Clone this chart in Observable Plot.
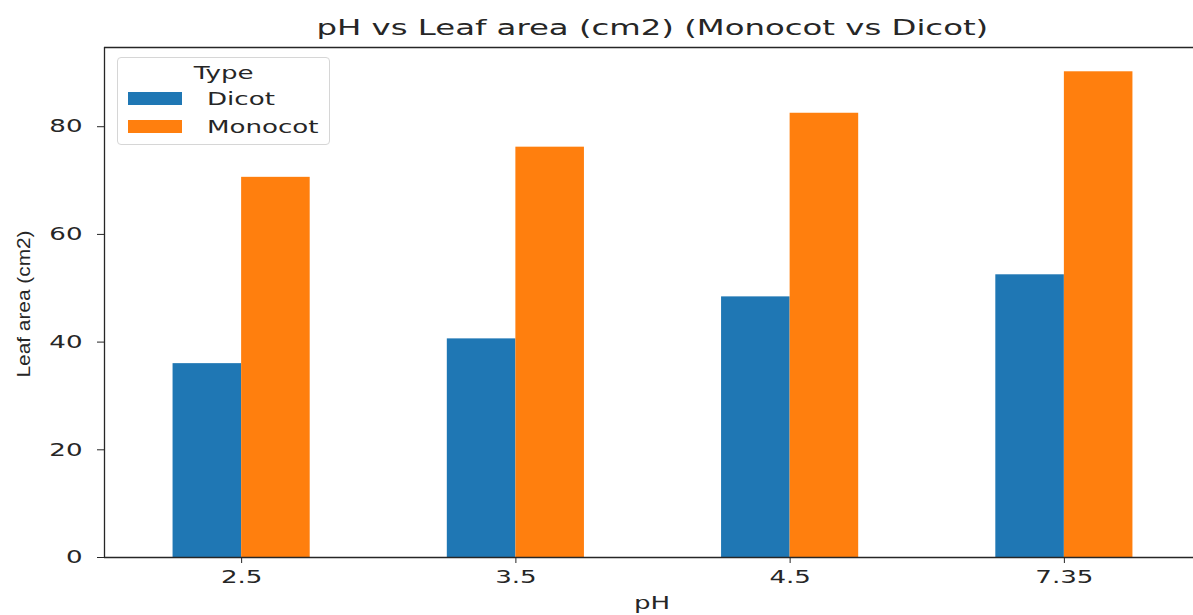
<!DOCTYPE html>
<html>
<head>
<meta charset="utf-8">
<script src="https://cdn.jsdelivr.net/npm/d3@7"></script>
<script src="https://cdn.jsdelivr.net/npm/@observablehq/plot@0.6"></script>
<style>
  html, body { margin: 0; padding: 0; background: #fff; overflow: hidden; }
  #wrap { position: relative; width: 1193px; height: 615px; overflow: hidden; font-family: "DejaVu Sans", sans-serif; color: #262626; }
  #title { height: 40px; position: relative; }
  #title span { position: absolute; left: 652px; top: 17px; font-size: 21px; line-height: 22px; white-space: nowrap; transform-origin: 0 50%; }
  #chart svg { max-width: none !important; display: block; }
  #ylab { position: absolute; left: 24px; top: 304px; font-family: "Liberation Sans", Arial, sans-serif; font-size: 18px; line-height: 18px; white-space: nowrap; }
  #xlab { position: absolute; left: 652px; top: 603px; font-size: 18px; line-height: 18px; white-space: nowrap; }
  #legend { position: absolute; left: 117px; top: 57px; width: 211px; height: 86px; border: 1px solid #d6d6d6; border-radius: 4px; background: rgba(255,255,255,0.85); }
  #legend .lt { position: absolute; left: 0; width: 100%; top: 6px; text-align: center; font-size: 18px; line-height: 18px; }
  #legend .sw { position: absolute; left: 10px; width: 54px; height: 13px; }
  #legend .lab { position: absolute; left: 89px; font-size: 18px; line-height: 18px; white-space: nowrap; transform-origin: 0 50%; }
</style>
</head>
<body>
<div id="wrap">
  <div id="title"><span></span></div>
  <div id="chart"></div>
  <div id="ylab"></div>
  <div id="xlab"></div>
  <div id="legend"></div>
</div>
<script>
// ---- data ----
const titleText = "pH vs Leaf area (cm2) (Monocot vs Dicot)";
const xLabel = "pH";
const yLabel = "Leaf area (cm2)";
const legendTitle = "Type";
const phLabels = ["2.5", "3.5", "4.5", "7.35"];
const types = ["Dicot", "Monocot"];
const dicot = [36.0, 40.6, 48.4, 52.5];
const monocot = [70.6, 76.2, 82.5, 90.2];
const yTicks = [0, 20, 40, 60, 80];
const colors = ["#1f77b4", "#ff7f0e"];

// ---- table (pandas-style grouped bars, total group width 0.5) ----
const groupWidth = 0.5;
const series = [dicot, monocot];
const rows = [];
phLabels.forEach((ph, i) => {
  types.forEach((t, j) => {
    const w = groupWidth / types.length;
    const x1 = i - groupWidth / 2 + j * w;
    rows.push({ph, type: t, x1, x2: x1 + w, value: series[j][i]});
  });
});
const yMax = d3.max([...dicot, ...monocot]) * 1.05;
const xDomain = [-0.5, phLabels.length - 0.5];

const SX = 1.45; // horizontal stretch of text in reference

const plot = Plot.plot({
  width: 1201,
  height: 575,
  marginTop: 7,
  marginBottom: 58,
  marginLeft: 104,
  marginRight: 0,
  style: {fontFamily: "DejaVu Sans, sans-serif", fontSize: "18px", color: "#262626", background: "transparent", maxWidth: "none"},
  x: {domain: xDomain, axis: null},
  y: {domain: [0, yMax], axis: null},
  color: {domain: types, range: colors},
  marks: [
    Plot.rectY(rows, {x1: "x1", x2: "x2", y: "value", fill: "type"}),
    Plot.ruleY([0, yMax], {stroke: "#262626", strokeWidth: 1.3}),
    Plot.ruleX([xDomain[0]], {stroke: "#262626", strokeWidth: 1.3}),
    Plot.axisY({ticks: yTicks, tickSize: 7, tickPadding: 15, label: null, tickFormat: d3.format("d"), stroke: "#262626", fill: "#262626", fontSize: 18}),
    Plot.axisX({ticks: phLabels.map((_, i) => i), tickSize: 6, tickPadding: 7, label: null, tickFormat: i => phLabels[i], stroke: "#262626", fill: "#262626", fontSize: 18})
  ]
});
document.getElementById("chart").appendChild(plot);

// stretch tick labels horizontally about their anchor
plot.querySelectorAll("text").forEach(t => {
  const x = +t.getAttribute("x") || 0;
  const y = +t.getAttribute("y") || 0;
  const tr = t.getAttribute("transform") || "";
  t.setAttribute("transform", `${tr} translate(${x},${y}) scale(${SX},1) translate(${-x},${-y})`);
});

// title
const ts = document.querySelector("#title span");
ts.textContent = titleText;
const tw = ts.offsetWidth;
const tScale = 671 / tw;
ts.style.transform = `translateX(${-tw * tScale / 2}px) scaleX(${tScale})`;

// y label
const yl = document.getElementById("ylab");
yl.textContent = yLabel;
const yw = yl.offsetWidth;
yl.style.transform = `translate(-50%,-50%) rotate(-90deg) scaleX(${147 / yw})`;

// x label
const xl = document.getElementById("xlab");
xl.textContent = xLabel;
xl.style.transform = `translate(-50%,-50%) scaleX(${SX})`;

// legend
const lg = document.getElementById("legend");
const lt = document.createElement("div");
lt.className = "lt";
lt.innerHTML = `<span style="display:inline-block;transform:scaleX(${SX})">${legendTitle}</span>`;
lg.appendChild(lt);
types.forEach((t, j) => {
  const sw = document.createElement("div");
  sw.className = "sw";
  sw.style.top = (34 + j * 28) + "px";
  sw.style.background = colors[j];
  lg.appendChild(sw);
  const lb = document.createElement("div");
  lb.className = "lab";
  lb.style.top = (32 + j * 28) + "px";
  lb.style.transform = `scaleX(${SX})`;
  lb.textContent = t;
  lg.appendChild(lb);
});
</script>
</body>
</html>
